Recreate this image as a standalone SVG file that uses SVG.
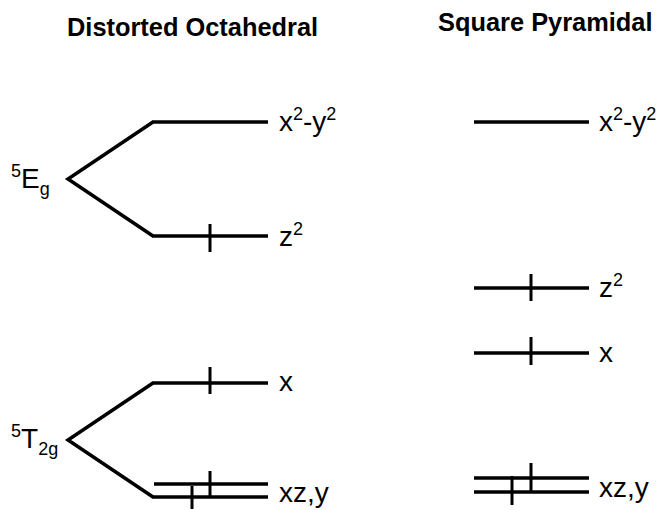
<svg xmlns="http://www.w3.org/2000/svg" width="661" height="510" viewBox="0 0 661 510">
<style>
  .lvl{stroke:#000;stroke-width:3.5;fill:none;stroke-linecap:butt}
  .tick{stroke:#000;stroke-width:3;fill:none}
  .lbl{font-family:"Liberation Sans",Arial,sans-serif;font-size:28px;fill:#000}
  .ttl{font-family:"Liberation Sans",Arial,sans-serif;font-size:25.4px;font-weight:bold;fill:#000}
  .sm{font-size:18px}
</style>
<rect width="661" height="510" fill="#fff"/>
<g id="titles">
  <text class="ttl" x="67" y="36">Distorted Octahedral</text>
  <text class="ttl" x="438" y="31">Square Pyramidal</text>
</g>
<g id="connectors">
  <polyline class="lvl" points="153,122 68,179 153,236"/>
  <polyline class="lvl" points="153,383 68,440 153,497"/>
</g>
<g id="eg-term">
  <text class="lbl" x="11" y="188"><tspan class="sm" dy="-11">5</tspan><tspan dy="11">E</tspan><tspan class="sm" dy="7">g</tspan></text>
</g>
<g id="t2g-term">
  <text class="lbl" x="11" y="448"><tspan class="sm" dy="-11">5</tspan><tspan dy="11">T</tspan><tspan class="sm" dy="7">2g</tspan></text>
</g>
<g id="oh-x2y2">
  <line class="lvl" x1="152" y1="122" x2="268" y2="122"/>
  <text class="lbl" x="279" y="131">x<tspan class="sm" dy="-11">2</tspan><tspan dy="11">-y</tspan><tspan class="sm" dy="-11">2</tspan></text>
</g>
<g id="oh-z2">
  <line class="lvl" x1="152" y1="236" x2="268" y2="236"/>
  <line class="tick" x1="210" y1="224" x2="210" y2="252"/>
  <text class="lbl" x="279" y="246">z<tspan class="sm" dy="-11">2</tspan></text>
</g>
<g id="oh-x">
  <line class="lvl" x1="152" y1="383" x2="268" y2="383"/>
  <line class="tick" x1="210" y1="367" x2="210" y2="394"/>
  <text class="lbl" x="279" y="391">x</text>
</g>
<g id="oh-xzy">
  <line class="lvl" x1="154" y1="484" x2="268" y2="484"/>
  <line class="lvl" x1="152" y1="497" x2="268" y2="497"/>
  <line class="tick" x1="210" y1="471" x2="210" y2="498"/>
  <line class="tick" x1="192" y1="486" x2="192" y2="509"/>
  <text class="lbl" x="279" y="502">xz,y</text>
</g>
<g id="sp-x2y2">
  <line class="lvl" x1="474" y1="122" x2="589" y2="122"/>
  <text class="lbl" x="599" y="131">x<tspan class="sm" dy="-11">2</tspan><tspan dy="11">-y</tspan><tspan class="sm" dy="-11">2</tspan></text>
</g>
<g id="sp-z2">
  <line class="lvl" x1="474" y1="288" x2="589" y2="288"/>
  <line class="tick" x1="531" y1="274" x2="531" y2="301"/>
  <text class="lbl" x="599" y="297">z<tspan class="sm" dy="-11">2</tspan></text>
</g>
<g id="sp-x">
  <line class="lvl" x1="474" y1="353" x2="589" y2="353"/>
  <line class="tick" x1="531" y1="337" x2="531" y2="365"/>
  <text class="lbl" x="599" y="362">x</text>
</g>
<g id="sp-xzy">
  <line class="lvl" x1="474" y1="478" x2="589" y2="478"/>
  <line class="lvl" x1="474" y1="492" x2="589" y2="492"/>
  <line class="tick" x1="531" y1="463" x2="531" y2="491"/>
  <line class="tick" x1="512" y1="476" x2="512" y2="505"/>
  <text class="lbl" x="599" y="497">xz,y</text>
</g>
</svg>
